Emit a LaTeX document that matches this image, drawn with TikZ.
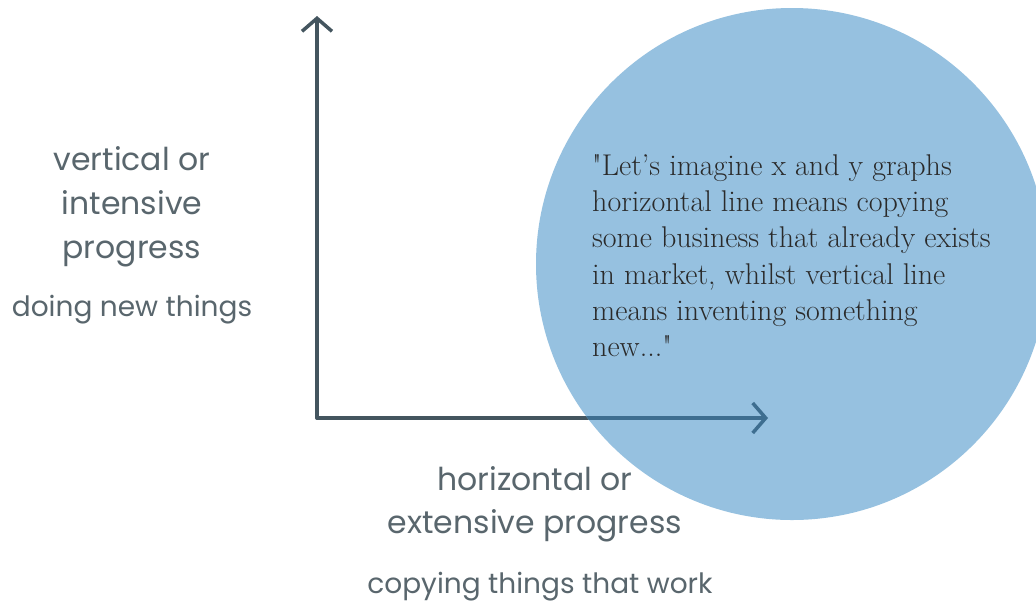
\documentclass[tikz,border=0pt]{standalone}
\usepackage{fontspec}
\newfontfamily\labelfont{Poppins}
\usetikzlibrary{arrows.meta}
\definecolor{axiscol}{HTML}{44555F}
\definecolor{axisblue}{HTML}{3E6E90}
\definecolor{labelcol}{HTML}{59666D}
\definecolor{bubble}{HTML}{96C1E0}
\definecolor{quotecol}{HTML}{2A2A2A}
\tikzset{
  axis/.style={line width=3.5pt, line cap=round, -{Straight Barb[length=13pt,width=30pt,line width=3.5pt]}},
  biglabel/.style={font=\labelfont\fontsize{31.5}{44}\selectfont, text=labelcol, inner sep=0pt, anchor=base},
  smalllabel/.style={font=\labelfont\fontsize{28}{30}\selectfont, text=labelcol, inner sep=0pt, anchor=base},
  quote/.style={font=\fontsize{30}{36.3}\selectfont, text=quotecol, align=left, inner sep=0pt, anchor=north west}
}
\begin{document}
\begin{tikzpicture}[x=1pt,y=-1pt]
\useasboundingbox (0,0) rectangle (1036,606);
\fill[white] (0,0) rectangle (1036,606);
\coordinate (O) at (317,418);
\coordinate (Ytip) at (317,16);
\coordinate (Xtip) at (768,418);
\draw[axis, axiscol] (O) -- (Ytip);
\draw[axis, axiscol] (O) -- (Xtip);
\node[circle, fill=bubble, minimum size=512pt, inner sep=0pt] (bub) at (792,264) {};
\begin{scope}
\clip (792,264) circle (256pt);
\draw[axis, axisblue] (O) -- (Xtip);
\end{scope}
\node[biglabel] (v1) at (132,170) {vertical or};
\node[biglabel] (v2) at (132,214) {intensive};
\node[biglabel] (v3) at (132,258) {progress};
\node[smalllabel] (v4) at (132,316) {doing new things};
\node[biglabel] (h1) at (535,490) {horizontal or};
\node[biglabel] (h2) at (535,533) {extensive progress};
\node[smalllabel] (h3) at (540,593) {copying things that work};
\node[quote] (q) at (592,154) {\textquotedbl Let's imagine x and y graphs\\
horizontal line means copying\\
some business that already exists\\
in market, whilst vertical line\\
means inventing something\\
new...\textquotedbl};
\end{tikzpicture}
\end{document}
